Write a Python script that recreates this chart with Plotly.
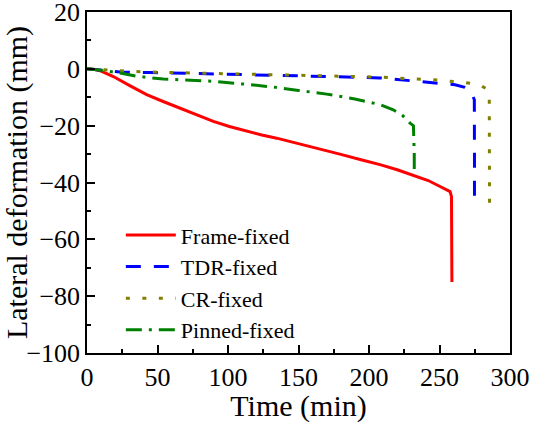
import plotly.graph_objects as go

# Lateral deformation histories of the four boundary configurations
frame_t = [0, 5, 10, 18.7, 30, 42.3, 54, 66, 78, 89.6, 101, 113.3, 124, 134.5,
           150, 165, 180, 195, 207.8, 220, 232, 242, 250.4, 255, 257.5, 258.5,
           258.7, 258.8]
frame_v = [0, -0.2, -0.8, -2.7, -5.8, -9.1, -11.5, -13.8, -16.2, -18.5, -20.3,
           -22.0, -23.3, -24.4, -26.3, -28.2, -30.1, -32.1, -33.7, -35.5, -37.5,
           -39.3, -41.4, -42.4, -43.2, -45.0, -60.0, -75.0]

tdr_t = [0, 10, 23.4, 45, 66, 100, 136.9, 170, 207.8, 231.4, 245, 261, 268,
         270.4, 273, 274.7, 274.8, 274.8]
tdr_v = [0, -0.5, -1.1, -1.3, -1.5, -1.9, -2.3, -2.7, -3.2, -4.2, -4.8, -5.6,
         -6.5, -7.1, -8.8, -10.9, -30.0, -49.0]

cr_t = [0, 10, 30, 60, 100, 127, 160, 207.8, 232.6, 244.5, 256.3, 267.4,
        278.7, 283, 285.3, 285.5, 285.5]
cr_v = [0, -0.3, -0.9, -1.3, -1.7, -2.1, -2.4, -2.9, -3.6, -3.8, -4.3, -4.8,
        -5.6, -7.0, -9.1, -30.0, -50.0]

pinned_t = [0, 10, 23.4, 35, 54.1, 70, 89.6, 110, 132.1, 150, 170, 190, 207.8,
            217.2, 224, 229.1, 231.5, 232.1, 232.1]
pinned_v = [0, -0.5, -1.5, -2.6, -3.6, -4.0, -4.4, -5.3, -6.4, -7.6, -8.9,
            -10.6, -12.6, -14.4, -16.5, -19.1, -20.0, -30.0, -37.3]

x_ticks = [0, 50, 100, 150, 200, 250, 300]
y_ticks = [-100, -80, -60, -40, -20, 0, 20]

FONT = "Liberation Serif, Times New Roman, serif"

series = [
    ("Frame-fixed", frame_t, frame_v, "#FF0000", "solid"),
    ("TDR-fixed", tdr_t, tdr_v, "#0000FF", "15px,13px"),
    ("CR-fixed", cr_t, cr_v, "#808000", "4px,12.5px"),
    ("Pinned-fixed", pinned_t, pinned_v, "#008000", "16px,7px,3px,7px"),
]

fig = go.Figure()
for name, t, v, color, dash in series:
    fig.add_trace(go.Scatter(
        x=t, y=v, mode="lines", name=name,
        line=dict(color=color, width=3, dash=dash),
    ))

axis_common = dict(
    showline=True, linecolor="black", linewidth=1.5, mirror=True,
    showgrid=False, zeroline=False, automargin=False,
    ticks="inside", ticklen=8, tickwidth=1.5, tickcolor="black",
    ticklabeloverflow="allow",
    tickfont=dict(family=FONT, size=26, color="black"),
)

fig.update_xaxes(
    range=[0, 300], tickvals=x_ticks,
    title=dict(text="Time (min)", font=dict(family=FONT, size=30, color="black"),
               standoff=0),
    minor=dict(ticks="inside", dtick=25, tick0=0, ticklen=4, tickwidth=1.5,
               tickcolor="black"),
    **axis_common,
)
fig.update_yaxes(
    range=[-100, 20], tickvals=y_ticks,
    title=dict(text="Lateral deformation (mm)",
               font=dict(family=FONT, size=30, color="black"), standoff=4),
    minor=dict(ticks="inside", dtick=10, tick0=0, ticklen=4, tickwidth=1.5,
               tickcolor="black"),
    **axis_common,
)

fig.update_layout(
    width=533, height=423,
    margin=dict(l=87, r=23, t=12, b=70),
    paper_bgcolor="white", plot_bgcolor="white",
    font=dict(family=FONT, color="black"),
    legend=dict(
        x=0.080, y=0.407, xanchor="left", yanchor="top",
        bgcolor="rgba(0,0,0,0)", borderwidth=0,
        font=dict(family=FONT, size=22, color="black"),
        itemwidth=50, tracegroupgap=0,
    ),
)

fig.write_html("out.html")
